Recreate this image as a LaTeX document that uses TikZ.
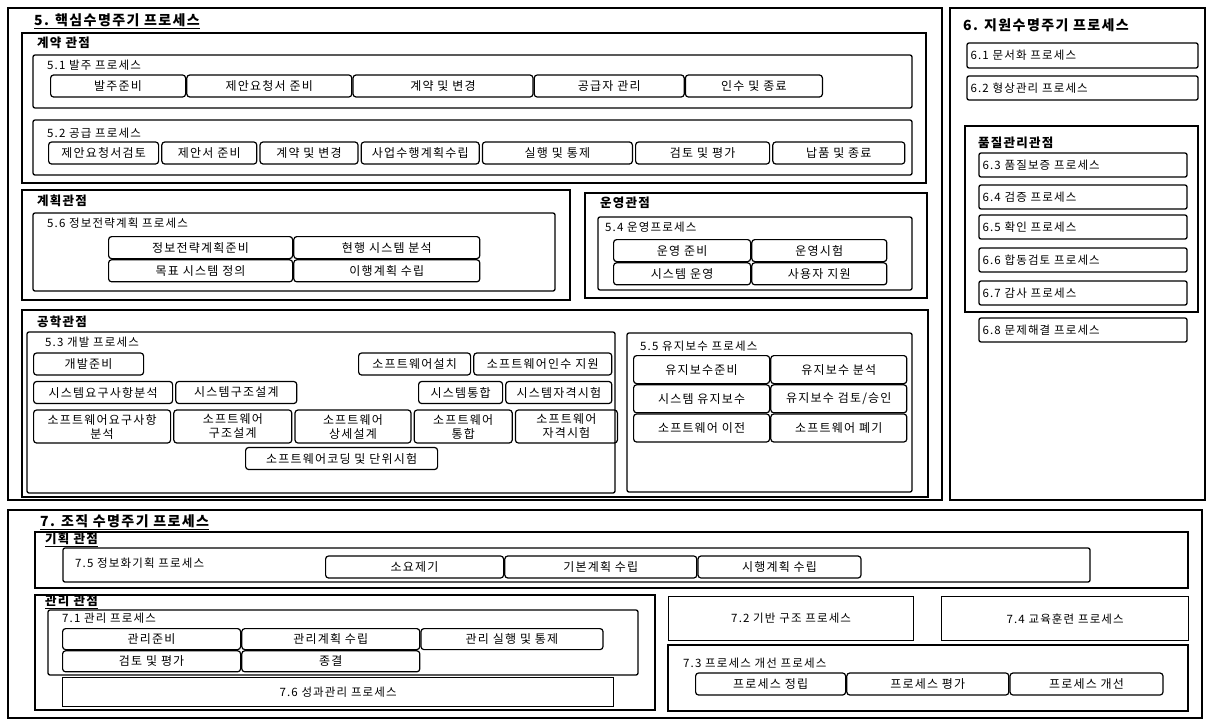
\documentclass[tikz,border=0pt]{standalone}
\usepackage{fontspec}
\setmainfont{Noto Sans CJK KR}[LetterSpace=10]
\usetikzlibrary{positioning, fit}

\begin{document}
\begin{tikzpicture}[
  x=1pt, y=-1pt,
  frame/.style={draw, line width=2.6pt, inner sep=0pt},
  view/.style={draw, line width=2pt, inner sep=0pt},
  proc/.style={draw, line width=1.3pt, rounded corners=2pt, inner sep=0pt},
  sqbox/.style={draw, line width=1.3pt, inner sep=0pt, font=\fontsize{11.5}{13}\selectfont},
  item/.style={draw, line width=1.2pt, rounded corners=3pt, minimum height=22pt, inner sep=0pt, align=center, font=\fontsize{12}{14}\selectfont},
  ttl/.style={anchor=west, inner sep=0pt, font=\fontsize{12.5}{14}\selectfont\bfseries},
  bigttl/.style={ttl, font=\fontsize{14}{16}\selectfont\bfseries},
  plabel/.style={anchor=west, inner sep=0pt, font=\fontsize{11.5}{13}\selectfont}
]
\useasboundingbox (0,0) rectangle (1209,726);

% 5. core life cycle
\node[frame, fit={(8,8) (942,500)}] (core) {};
\node[bigttl] (coreT) at (34,21) {\underline{5. 핵심수명주기 프로세스}};

% Contract view
\node[view, fit={(22,33) (926,183)}] (contract) {};
\node[ttl] (contractT) at (37,43) {계약 관점};

\node[proc, fit={(33,55) (912,108)}] (acq) {};
\node[plabel] (acqT) at (47,65) {5.1 발주 프로세스};
\node[item, minimum width=135pt, anchor=west] (acq1) at (50,86) {발주준비};
\node[item, minimum width=165pt, right=0pt of acq1] (acq2) {제안요청서 준비};
\node[item, minimum width=180pt, right=0pt of acq2] (acq3) {계약 및 변경};
\node[item, minimum width=150pt, right=0pt of acq3] (acq4) {공급자 관리};
\node[item, minimum width=137pt, right=0pt of acq4] (acq5) {인수 및 종료};

\node[proc, fit={(33,120) (912,175)}] (sup) {};
\node[plabel] (supT) at (47,133) {5.2 공급 프로세스};
\node[item, minimum width=110pt, anchor=west] (sup1) at (48,153) {제안요청서검토};
\node[item, minimum width=95pt, right=2pt of sup1] (sup2) {제안서 준비};
\node[item, minimum width=98pt, right=2pt of sup2] (sup3) {계약 및 변경};
\node[item, minimum width=118pt, right=2pt of sup3] (sup4) {사업수행계획수립};
\node[item, minimum width=150pt, right=2pt of sup4] (sup5) {실행 및 통제};
\node[item, minimum width=134pt, right=2pt of sup5] (sup6) {검토 및 평가};
\node[item, minimum width=132pt, right=2pt of sup6] (sup7) {납품 및 종료};

% Planning view
\node[view, fit={(22,190) (570,300)}] (plan) {};
\node[ttl] (planT) at (37,201) {계획관점};
\node[proc, fit={(33,213) (555,291)}] (isp) {};
\node[plabel] (ispT) at (47,223) {5.6 정보전략계획 프로세스};
\node[item, minimum width=184pt, anchor=north west] (isp1) at (108,236) {정보전략계획준비};
\node[item, minimum width=186pt, right=0pt of isp1] (isp2) {현행 시스템 분석};
\node[item, minimum width=184pt, below=0pt of isp1] (isp3) {목표 시스템 정의};
\node[item, minimum width=186pt, below=0pt of isp2] (isp4) {이행계획 수립};

% Operation view
\node[view, fit={(585,193) (927,298)}] (oper) {};
\node[ttl] (operT) at (600,203) {운영관점};
\node[proc, fit={(598,217) (912,290)}] (opr) {};
\node[plabel] (oprT) at (605,227) {5.4 운영프로세스};
\node[item, minimum width=137pt, anchor=north west] (opr1) at (613,239) {운영 준비};
\node[item, minimum width=135pt, right=0pt of opr1] (opr2) {운영시험};
\node[item, minimum width=137pt, below=0pt of opr1] (opr3) {시스템 운영};
\node[item, minimum width=135pt, below=0pt of opr2] (opr4) {사용자 지원};

% Engineering view
\node[view, fit={(22,310) (928,497)}] (eng) {};
\node[ttl] (engT) at (37,322) {공학관점};
\node[proc, fit={(27,332) (615,493)}] (dev) {};
\node[plabel] (devT) at (45,342) {5.3 개발 프로세스};
\node[item, minimum width=110pt, anchor=west] (dev1) at (33,364) {개발준비};
\node[item, minimum width=112pt, anchor=west] (dev12) at (358,364) {소프트웨어설치};
\node[item, minimum width=138pt, right=2pt of dev12] (dev13) {소프트웨어인수 지원};
\node[item, minimum width=139pt, anchor=west] (dev2) at (33,392.5) {시스템요구사항분석};
\node[item, minimum width=121pt, right=2pt of dev2] (dev3) {시스템구조설계};
\node[item, minimum width=84pt, anchor=west] (dev10) at (418,392.5) {시스템통합};
\node[item, minimum width=106pt, right=2pt of dev10] (dev11) {시스템자격시험};
\node[item, minimum width=137pt, minimum height=33pt, anchor=west] (dev4) at (33,426.5) {소프트웨어요구사항\\분석};
\node[item, minimum width=118pt, minimum height=33pt, right=2pt of dev4] (dev5) {소프트웨어\\구조설계};
\node[item, minimum width=116pt, minimum height=33pt, right=2pt of dev5] (dev6) {소프트웨어\\상세설계};
\node[item, minimum width=98pt, minimum height=33pt, right=2pt of dev6] (dev8) {소프트웨어\\통합};
\node[item, minimum width=102pt, minimum height=33pt, right=2pt of dev8] (dev9) {소프트웨어\\자격시험};
\node[item, minimum width=192pt, anchor=west] (dev7) at (245,458.5) {소프트웨어코딩 및 단위시험};

\node[proc, fit={(627,333) (912,492)}] (mnt) {};
\node[plabel] (mntT) at (640,346) {5.5 유지보수 프로세스};
\node[item, minimum width=136pt, minimum height=28pt, anchor=north west] (mnt1) at (633,355) {유지보수준비};
\node[item, minimum width=136pt, minimum height=28pt, right=0pt of mnt1] (mnt2) {유지보수 분석};
\node[item, minimum width=136pt, minimum height=28pt, below=0pt of mnt1] (mnt3) {시스템 유지보수};
\node[item, minimum width=136pt, minimum height=28pt, below=0pt of mnt2] (mnt4) {유지보수 검토/승인};
\node[item, minimum width=136pt, minimum height=28pt, below=0pt of mnt3] (mnt5) {소프트웨어 이전};
\node[item, minimum width=136pt, minimum height=28pt, below=0pt of mnt4] (mnt6) {소프트웨어 폐기};

% 6. supporting life cycle
\node[frame, fit={(950,8) (1205,500)}] (supp) {};
\node[bigttl] (suppT) at (963,25) {6. 지원수명주기 프로세스};
\node[proc, fit={(967,43) (1198,68)}] (doc) {};
\node[plabel, right=4pt of doc.west] (docT) {6.1 문서화 프로세스};
\node[proc, fit={(967,76) (1198,100)}] (cm) {};
\node[plabel, right=4pt of cm.west] (cmT) {6.2 형상관리 프로세스};

\node[view, fit={(965,126) (1198,312)}] (qual) {};
\node[ttl] (qualT) at (978,143) {품질관리관점};
\node[proc, fit={(979,153) (1187,177)}] (qa) {};
\node[plabel, right=4pt of qa.west] (qaT) {6.3 품질보증 프로세스};
\node[proc, fit={(979,185) (1187,209)}] (ver) {};
\node[plabel, right=4pt of ver.west] (verT) {6.4 검증 프로세스};
\node[proc, fit={(979,215) (1187,239)}] (val) {};
\node[plabel, right=4pt of val.west] (valT) {6.5 확인 프로세스};
\node[proc, fit={(979,248) (1187,272)}] (jr) {};
\node[plabel, right=4pt of jr.west] (jrT) {6.6 합동검토 프로세스};
\node[proc, fit={(979,281) (1187,305)}] (aud) {};
\node[plabel, right=4pt of aud.west] (audT) {6.7 감사 프로세스};
\node[proc, fit={(979,318) (1187,342)}] (prb) {};
\node[plabel, right=4pt of prb.west] (prbT) {6.8 문제해결 프로세스};

% 7. organizational life cycle
\node[frame, fit={(8,510) (1202,718)}] (org) {};
\node[bigttl] (orgT) at (40,522) {\underline{7. 조직 수명주기 프로세스}};

\node[view, fit={(35,532) (1188,588)}] (pln) {};
\node[ttl] (plnT) at (45,540) {\underline{기획 관점}};
\node[proc, fit={(63,548) (1090,582)}] (infp) {};
\node[plabel] (infpT) at (75,563) {7.5 정보화기획 프로세스};
\node[item, minimum width=178pt, anchor=west] (infp1) at (325,567) {소요제기};
\node[item, minimum width=192pt, right=0pt of infp1] (infp2) {기본계획 수립};
\node[item, minimum width=163pt, right=0pt of infp2] (infp3) {시행계획 수립};

\node[view, fit={(35,595) (655,710)}] (mgt) {};
\node[ttl] (mgtT) at (45,602) {\underline{관리 관점}};
\node[proc, fit={(48,610) (638,675)}] (mgp) {};
\node[plabel] (mgpT) at (62,618) {7.1 관리 프로세스};
\node[item, minimum width=178pt, minimum height=21pt, anchor=north west] (mgp1) at (62,628) {관리준비};
\node[item, minimum width=178pt, minimum height=21pt, right=0pt of mgp1] (mgp2) {관리계획 수립};
\node[item, minimum width=182pt, minimum height=21pt, right=0pt of mgp2] (mgp3) {관리 실행 및 통제};
\node[item, minimum width=178pt, minimum height=21pt, below=0pt of mgp1] (mgp4) {검토 및 평가};
\node[item, minimum width=178pt, minimum height=21pt, below=0pt of mgp2] (mgp5) {종결};
\node[sqbox, minimum width=551pt, minimum height=29pt, anchor=north west] (perf) at (62,677) {7.6 성과관리 프로세스};

\node[sqbox, minimum width=245pt, minimum height=44pt, anchor=north west] (infra) at (668,596) {7.2 기반 구조 프로세스};
\node[sqbox, minimum width=247pt, minimum height=44pt, anchor=north west] (trn) at (941,596) {7.4 교육훈련 프로세스};

\node[sqbox, fit={(668,645) (1188,711)}] (impr) {};
\node[plabel] (imprT) at (683,663) {7.3 프로세스 개선 프로세스};
\node[item, minimum width=150pt, anchor=west] (impr1) at (695,684) {프로세스 정립};
\node[item, minimum width=162pt, right=0pt of impr1] (impr2) {프로세스 평가};
\node[item, minimum width=153pt, right=0pt of impr2] (impr3) {프로세스 개선};

\end{tikzpicture}
\end{document}
